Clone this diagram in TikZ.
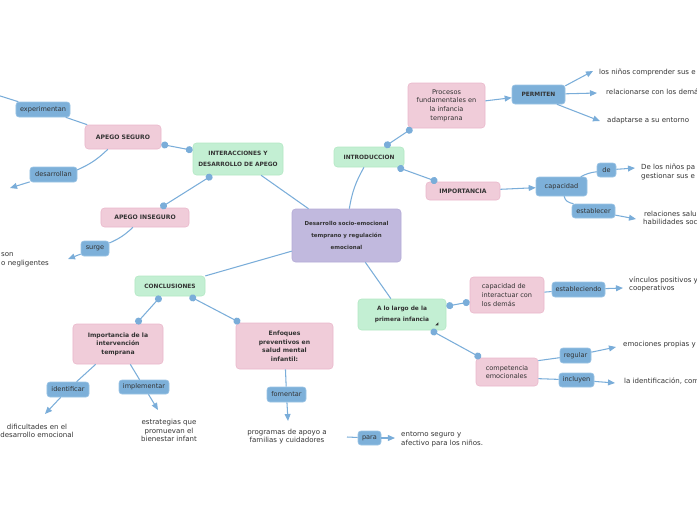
\documentclass[tikz,border=0pt]{standalone}
\usepackage{fontspec}
\setmainfont{DejaVu Sans}
\usetikzlibrary{arrows.meta,positioning,calc}
\definecolor{linkblue}{HTML}{7AADD9}
\definecolor{verbfill}{HTML}{7DB0D9}
\definecolor{verbdraw}{HTML}{9CC4E5}
\definecolor{pinkfill}{HTML}{F0CCD9}
\definecolor{pinkdraw}{HTML}{EAB8CB}
\definecolor{greenfill}{HTML}{C3EFD3}
\definecolor{greendraw}{HTML}{B2E8C4}
\definecolor{rootfill}{HTML}{C1B9DE}
\definecolor{rootdraw}{HTML}{B4ABD6}
\definecolor{inkgray}{HTML}{333333}
\tikzset{
    root/.style={rectangle, draw=rootdraw, fill=rootfill, rounded corners=3pt, align=center, minimum width=3.27cm, minimum height=1.59cm, font=\fontsize{4.7}{10}\selectfont\bfseries, text=inkgray, line width=0.5pt},
    mainblock/.style={rectangle, draw=greendraw, fill=greenfill, rounded corners=3pt, align=center, inner sep=1pt, font=\fontsize{5}{9.2}\selectfont\bfseries, text=inkgray, line width=0.5pt},
    block/.style={rectangle, draw=pinkdraw, fill=pinkfill, rounded corners=3pt, align=center, inner sep=1pt, font=\fontsize{5.6}{7.4}\selectfont, text=inkgray, line width=0.5pt},
    boldblock/.style={block, font=\fontsize{5.2}{7.3}\selectfont\bfseries},
    verb/.style={rectangle, draw=verbdraw, fill=verbfill, rounded corners=2.5pt, inner sep=1pt, font=\fontsize{5.6}{7}\selectfont, text=inkgray, line width=0.5pt},
    leaf/.style={inner sep=0pt, font=\fontsize{6}{7.3}\selectfont, text=inkgray},
    line/.style={draw=linkblue, line width=0.9pt, -{Triangle[length=6pt,width=5pt]}},
    link/.style={draw=linkblue, line width=0.9pt},
    dotlink/.style={draw=linkblue, line width=0.9pt, {Circle[length=6pt]}-{Circle[length=6pt]}}
}
\begin{document}
\begin{tikzpicture}[x=0.03cm, y=0.03cm]
    \useasboundingbox (0,0) rectangle (697,-520);
    \clip (0,0) rectangle (697,-520);

    \node [root] (root) at (346.5,-235.5) {Desarrollo socio-emocional\\temprano y regulación\\emocional};

    % apego
    \node [mainblock, minimum width=2.7cm, minimum height=0.96cm] (inter) at (238,-159) {INTERACCIONES Y\\DESARROLLO DE APEGO};
    \node [boldblock, minimum width=2.28cm, minimum height=0.72cm] (seguro) at (123,-137) {APEGO SEGURO};
    \node [verb, minimum width=1.62cm, minimum height=0.45cm] (experimentan) at (43,-109.5) {experimentan};
    \node [verb, minimum width=1.41cm, minimum height=0.45cm] (desarrollan) at (53.5,-174.5) {desarrollan};
    \node [boldblock, minimum width=2.64cm, minimum height=0.57cm] (inseguro) at (145,-217.5) {APEGO INSEGURO};
    \node [verb, minimum width=0.84cm, minimum height=0.45cm] (surge) at (95,-248.5) {surge};
    \node [leaf, anchor=west, align=left] (son) at (1,-260) {son\\o negligentes};

    % conclusiones
    \node [mainblock, minimum width=2.1cm, minimum height=0.6cm] (concl) at (170,-286) {CONCLUSIONES};
    \node [boldblock, minimum width=2.7cm, minimum height=1.2cm] (imp) at (118,-344) {Importancia de la\\intervención\\temprana};
    \node [boldblock, minimum width=2.91cm, minimum height=1.38cm] (enf) at (284.5,-346) {Enfoques\\preventivos en\\salud mental\\infantil:};
    \node [verb, minimum width=1.26cm, minimum height=0.45cm] (identificar) at (68,-389.5) {identificar};
    \node [verb, minimum width=1.5cm, minimum height=0.42cm] (implementar) at (144,-387) {implementar};
    \node [verb, minimum width=1.17cm, minimum height=0.45cm] (fomentar) at (286.5,-394.5) {fomentar};
    \node [verb, minimum width=0.69cm, minimum height=0.42cm] (para) at (369.5,-438) {para};
    \node [leaf, align=center] (dificultades) at (37,-431) {dificultades en el\\desarrollo emocional};
    \node [leaf, align=center] (estrategias) at (169,-430.5) {estrategias que\\promuevan el\\bienestar infant};
    \node [leaf, align=center] (programas) at (287,-436.5) {programas de apoyo a\\familias y cuidadores};
    \node [leaf, anchor=west, align=left] (entorno) at (401,-439) {entorno seguro y\\afectivo para los niños.};

    % introduccion
    \node [mainblock, minimum width=2.1cm, minimum height=0.6cm] (intro) at (369,-157) {INTRODUCCION};
    \node [block, minimum width=2.31cm, minimum height=1.35cm] (procesos) at (446.5,-105.5) {Procesos\\fundamentales en\\la infancia\\temprana};
    \node [verb, minimum width=1.59cm, minimum height=0.57cm, font=\fontsize{5}{7}\selectfont\bfseries] (permiten) at (538.5,-94.5) {PERMITEN};
    \node [boldblock, minimum width=2.22cm, minimum height=0.54cm] (importancia) at (463,-191) {IMPORTANCIA};
    \node [verb, minimum width=1.53cm, minimum height=0.57cm] (capacidad) at (561.5,-186.5) {capacidad};
    \node [verb, minimum width=0.57cm, minimum height=0.42cm] (de) at (606.5,-170) {de};
    \node [verb, minimum width=1.29cm, minimum height=0.42cm] (establecer) at (593.5,-211) {establecer};
    \node [leaf, anchor=west] (comprender) at (599,-72) {los niños comprender sus e};
    \node [leaf, anchor=west] (relacionarse) at (606,-92) {relacionarse con los demá};
    \node [leaf, anchor=west] (adaptarse) at (607,-120.5) {adaptarse a su entorno};
    \node [leaf, anchor=west, align=left] (gestionar) at (641,-172) {De los niños pa\\gestionar sus e};
    \node [leaf, anchor=west, align=center] (relaciones) at (643,-218) {relaciones salu\\habilidades soc};

    % a lo largo
    \node [mainblock, minimum width=2.64cm, minimum height=0.93cm] (alolargo) at (402,-314.5) {A lo largo de la\\primera infancia};
    \fill [inkgray] ($(alolargo.south east)+(-11,5)$) -- ++(3,0) -- ++(0,3) -- cycle;
    \node [block, minimum width=2.22cm, minimum height=1.08cm, align=left] (capint) at (507,-295) {capacidad de\\interactuar con\\los demás};
    \node [verb, minimum width=1.59cm, minimum height=0.45cm] (estableciendo) at (578.5,-289.5) {estableciendo};
    \node [block, minimum width=1.86cm, minimum height=0.84cm, align=left] (competencia) at (507,-372) {competencia\\emocionales};
    \node [verb, minimum width=0.93cm, minimum height=0.45cm] (regular) at (575.5,-355.5) {regular};
    \node [verb, minimum width=1.05cm, minimum height=0.42cm] (incluyen) at (576.5,-380) {incluyen};
    \node [leaf, anchor=west, align=left] (vinculos) at (629,-284.5) {vínculos positivos y\\cooperativos};
    \node [leaf, anchor=west] (emociones) at (623,-345) {emociones propias y};
    \node [leaf, anchor=west] (identificacion) at (624,-381) {la identificación, com};

    % free ends
    \coordinate (expEnd) at (-25,-88);
    \coordinate (desEnd) at (10,-188);
    \coordinate (surEnd) at (68,-259);
    \coordinate (idEnd) at (45,-414);
    \coordinate (implEnd) at (158,-410);
    \coordinate (fomEnd) at (288,-421);
    \coordinate (paraStart) at (347,-437);
    \coordinate (paraEnd) at (395,-438);
    \coordinate (perEndA) at (593,-71);
    \coordinate (perEndB) at (597,-93);
    \coordinate (perEndC) at (600,-121);
    \coordinate (deEnd) at (635,-168);
    \coordinate (estEnd) at (636,-219);
    \coordinate (estcEnd) at (623,-288);
    \coordinate (regEnd) at (616,-347);
    \coordinate (incEnd) at (615,-383);

    \path [link] (root) -- (inter);
    \path [link] (root) to[bend left=10] (intro);
    \path [link] (root) -- (concl);
    \path [link] (root) -- (alolargo);

    \path [dotlink] (seguro) -- (inter);
    \path [dotlink] (inter) -- (inseguro);
    \path [link] (seguro) -- (experimentan);
    \path [line] (experimentan) -- (expEnd);
    \path [link] (seguro.-141) to[bend left=10] (desarrollan.11);
    \path [line] (desarrollan) -- (desEnd);
    \path [link] (inseguro.-141) to[bend left=10] (surge.21);
    \path [line] (surge) -- (surEnd);

    \path [dotlink] (concl) -- (imp);
    \path [dotlink] (concl) -- (enf);
    \path [link] (imp) -- (identificar);
    \path [line] (identificar) -- (idEnd);
    \path [link] (imp) -- (implementar);
    \path [line] (implementar) -- (implEnd);
    \path [link] (enf) -- (fomentar);
    \path [line] (fomentar) -- (fomEnd);
    \path [link] (paraStart) -- (para);
    \path [line] (para) -- (paraEnd);

    \path [dotlink] (intro) -- (procesos);
    \path [dotlink] (intro) -- (importancia);
    \path [line] (procesos) -- (permiten);
    \path [line] (permiten.18) -- (perEndA);
    \path [line] (permiten) -- (perEndB);
    \path [line] (permiten.-28) -- (perEndC);
    \path [line] (importancia) -- (capacidad);
    \path [link] (capacidad.27) to[bend left=10] (de.190);
    \path [line] (de) -- (deEnd);
    \path [link] (capacidad.-75) to[out=-80, in=170] (establecer.160);
    \path [line] (establecer) -- (estEnd);

    \path [dotlink] (alolargo) -- (capint);
    \path [dotlink] (alolargo) -- (competencia);
    \path [link] (capint) -- (estableciendo);
    \path [line] (estableciendo) -- (estcEnd);
    \path [link] (competencia.20) -- (regular);
    \path [link] (competencia.-12) -- (incluyen);
    \path [line] (regular) -- (regEnd);
    \path [line] (incluyen) -- (incEnd);
\end{tikzpicture}
\end{document}
